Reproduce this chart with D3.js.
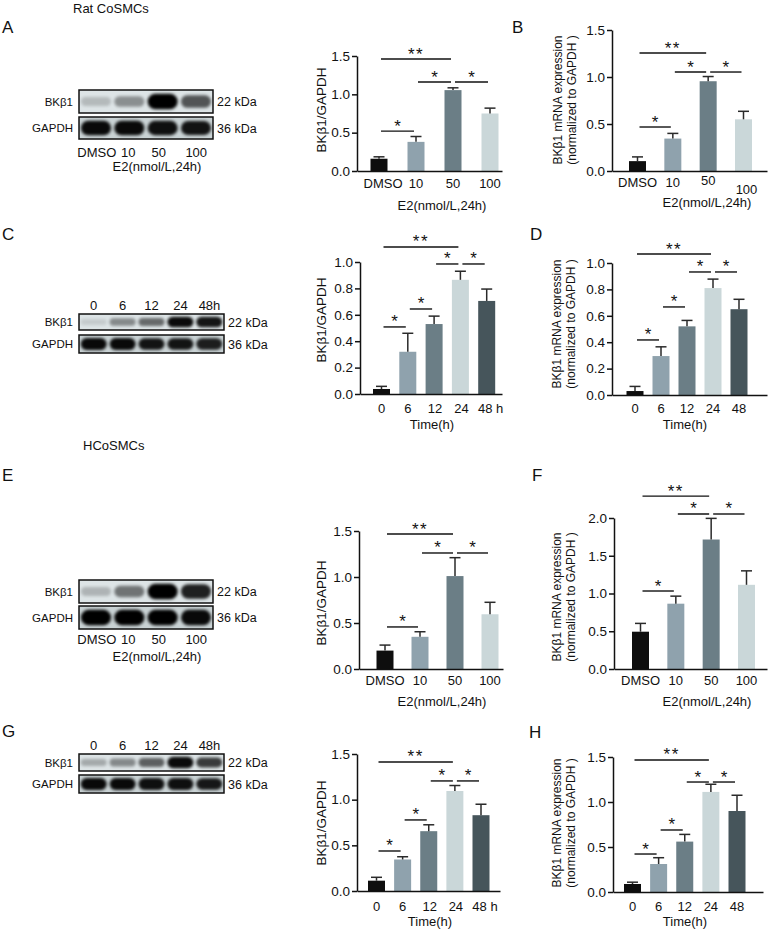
<!DOCTYPE html>
<html><head><meta charset="utf-8">
<script src="https://cdn.jsdelivr.net/npm/d3@7"></script>
<style>
body{margin:0;background:#fff}
text{font-family:"Liberation Sans",Arial,sans-serif;fill:#111}
</style>
</head><body>
<svg id="fig" width="774" height="931"></svg>
<script>
// ---------------- DATA ----------------
const doseCats = ["DMSO","10","50","100"];
const timeCats = ["0","6","12","24","48"];
const timeTicksWB = ["0","6","12","24","48h"];
const timeTicksC = ["0","6","12","24","48 h"];
const timeTicksD = ["0","6","12","24","48"];
const barColors = ["#0e0e0e","#8fa2ad","#6b7e86","#cad7d9","#46555b"];

// western blot band intensities (0..1)
const wbA_bk = [0.12, 0.32, 1.0, 0.6];
const wbA_gapdh = [0.95, 0.95, 0.92, 0.9];
const wbC_bk = [0.04, 0.35, 0.5, 0.95, 0.9];
const wbC_gapdh = [0.95, 0.95, 0.9, 0.9, 0.85];
const wbE_bk = [0.15, 0.45, 1.0, 0.85];
const wbE_gapdh = [1.0, 1.0, 1.0, 0.95];
const wbG_bk = [0.2, 0.35, 0.55, 0.95, 0.72];
const wbG_gapdh = [0.95, 0.95, 0.92, 0.92, 0.88];

// bar means and SEM (upper)
const aMean = [0.16, 0.38, 1.055, 0.75], aErr = [0.025, 0.07, 0.03, 0.07];
const bMean = [0.105, 0.345, 0.955, 0.55], bErr = [0.045, 0.055, 0.05, 0.085];
const cMean = [0.038, 0.32, 0.53, 0.865, 0.705], cErr = [0.02, 0.14, 0.06, 0.065, 0.09];
const dMean = [0.03, 0.295, 0.52, 0.81, 0.65], dErr = [0.035, 0.07, 0.045, 0.068, 0.075];
const eMean = [0.20, 0.35, 1.01, 0.595], eErr = [0.06, 0.055, 0.2, 0.13];
const fMean = [0.494, 0.865, 1.715, 1.115], fErr = [0.11, 0.1, 0.28, 0.185];
const gMean = [0.113, 0.345, 0.655, 1.095, 0.83], gErr = [0.037, 0.03, 0.07, 0.06, 0.12];
const hMean = [0.089, 0.311, 0.56, 1.112, 0.90], hErr = [0.02, 0.07, 0.08, 0.085, 0.175];

// significance brackets: [fromIndex, toIndex, yValue, label]
const aSig = [[0,2,1.46,"**"],[1,2,1.16,"*"],[2,3,1.16,"*"],[0,1,0.52,"*"]];
const bSig = [[0,2,1.255,"**"],[1,2,1.053,"*"],[2,3,1.053,"*"],[0,1,0.468,"*"]];
const cSig = [[0,3,1.114,"**"],[2,3,0.985,"*"],[3,4,0.985,"*"],[1,2,0.644,"*"],[0,1,0.508,"*"]];
const dSig = [[0,3,1.068,"**"],[2,3,0.932,"*"],[3,4,0.932,"*"],[1,2,0.667,"*"],[0,1,0.417,"*"]];
const eSig = [[0,2,1.467,"**"],[1,2,1.261,"*"],[2,3,1.261,"*"],[0,1,0.457,"*"]];
const fSig = [[0,2,2.29,"**"],[1,2,2.053,"*"],[2,3,2.053,"*"],[0,1,1.033,"*"]];
const gSig = [[0,3,1.413,"**"],[2,3,1.205,"*"],[3,4,1.205,"*"],[1,2,0.778,"*"],[0,1,0.438,"*"]];
const hSig = [[0,3,1.467,"**"],[2,3,1.222,"*"],[3,4,1.222,"*"],[1,2,0.689,"*"],[0,1,0.422,"*"]];

const ticks15 = [0, 0.5, 1.0, 1.5];
const ticks10 = [0, 0.2, 0.4, 0.6, 0.8, 1.0];
const ticks20 = [0, 0.5, 1.0, 1.5, 2.0];

const wbTitle = "E2(nmol/L,24h)";
const yTitleWB = "BKβ1/GAPDH";
const yTitleMRNA = ["BKβ1 mRNA expression", "(normalized to GAPDH )"];

// ---------------- DRAWING ----------------
const svg = d3.select("#fig");
const defs = svg.append("defs");
const flt = defs.append("filter").attr("id","blur")
  .attr("x","-40%").attr("y","-80%").attr("width","180%").attr("height","260%");
flt.append("feGaussianBlur").attr("stdDeviation",1.7);

function txt(g, x, y, s, size, anchor){
  return g.append("text").attr("x",x).attr("y",y).attr("font-size",size)
    .attr("text-anchor",anchor||"middle").text(s);
}

svg.append("text").attr("x",73).attr("y",13).attr("font-size",13).text("Rat CoSMCs");
svg.append("text").attr("x",83).attr("y",450).attr("font-size",13).text("HCoSMCs");

[["A",2,33],["B",512,33],["C",2,240],["D",530,240],["E",2,481],["F",532,481],["G",2,737],["H",529,738]]
  .forEach(([l,x,y])=>svg.append("text").attr("x",x).attr("y",y).attr("font-size",17).text(l));

function blot(cfg){
  const g = svg.append("g");
  const lanes = d3.scaleBand().domain(d3.range(cfg.bk.length)).range([cfg.x0, cfg.x1])
    .paddingInner(0.1).paddingOuter(0.06);
  const lanesC = d3.scaleBand().domain(d3.range(cfg.bk.length)).range([cfg.x0, cfg.x1]);
  const op = d3.scaleLinear().domain([0,1]).range([0.07,1]);
  [[cfg.bk, cfg.bkY, "BKβ1", "22 kDa", "#dde4e6"], [cfg.gd, cfg.gdY, "GAPDH", "36 kDa", "#c9d2d4"]]
  .forEach(([vals,[ya,yb],name,kda,bg],k)=>{
    const id = "clip"+cfg.id+k;
    defs.append("clipPath").attr("id",id).append("rect")
      .attr("x",cfg.x0).attr("y",ya).attr("width",cfg.x1-cfg.x0).attr("height",yb-ya);
    g.append("rect").attr("x",cfg.x0).attr("y",ya).attr("width",cfg.x1-cfg.x0).attr("height",yb-ya)
      .attr("fill",bg);
    const hs = d3.scaleLinear().domain([0,1]).range([0.35*(yb-ya),0.68*(yb-ya)]);
    const gb = g.append("g").attr("clip-path",`url(#${id})`);
    gb.selectAll("rect").data(vals).join("rect")
      .attr("x",(d,i)=>lanes(i)).attr("width",lanes.bandwidth())
      .attr("y",d=>(ya+yb)/2 - hs(d)/2).attr("height",d=>hs(d)).attr("rx",d=>hs(d)/2)
      .attr("fill","#050505").attr("opacity",d=>op(d)).attr("filter","url(#blur)");
    g.append("rect").attr("x",cfg.x0).attr("y",ya).attr("width",cfg.x1-cfg.x0).attr("height",yb-ya)
      .attr("fill","none").attr("stroke","#111").attr("stroke-width",1.5);
    txt(g, 73, (ya+yb)/2+4, name, 11.5, "end");
    txt(g, cfg.x1+4, (ya+yb)/2+4.5, kda, 12.5, "start");
  });
  cfg.laneLabels.forEach((s,i)=>txt(g, lanesC(i)+lanesC.bandwidth()/2 + (cfg.laneDx?cfg.laneDx[i]:0), cfg.laneY, s, 13));
  if(cfg.title) txt(g, cfg.titleX, cfg.titleY, cfg.title, 13);
}

blot({id:"A", x0:79, x1:213, bkY:[90,113], gdY:[117,139], bk:wbA_bk, gd:wbA_gapdh,
  laneLabels:doseCats, laneY:157, laneDx:[1,-1,-4,0], title:wbTitle, titleX:157, titleY:171});
blot({id:"C", x0:79, x1:224, bkY:[314,330], gdY:[335,353], bk:wbC_bk, gd:wbC_gapdh,
  laneLabels:timeTicksWB, laneY:310});
blot({id:"E", x0:79, x1:213, bkY:[580,603], gdY:[606,629], bk:wbE_bk, gd:wbE_gapdh,
  laneLabels:doseCats, laneY:644, laneDx:[1,-1,-4,0], title:wbTitle, titleX:157, titleY:661});
blot({id:"G", x0:79, x1:224, bkY:[754,771], gdY:[775,793], bk:wbG_bk, gd:wbG_gapdh,
  laneLabels:timeTicksWB, laneY:750});

function bars(cfg){
  const g = svg.append("g");
  const y = d3.scaleLinear().domain([0,cfg.max]).range([cfg.y0, cfg.yTop]);
  const x = d3.scalePoint().domain(cfg.cats).range([cfg.c0, cfg.c1]);
  const bw = 17;
  g.selectAll(".bar").data(cfg.mean).join("rect").attr("class","bar")
    .attr("x",(d,i)=>x(cfg.cats[i])-bw/2).attr("width",bw)
    .attr("y",d=>y(d)).attr("height",d=>cfg.y0-y(d))
    .attr("fill",(d,i)=>barColors[i]);
  // error bars
  const eg = g.append("g").attr("stroke","#2a2a2a").attr("stroke-width",1.5).attr("fill","none");
  cfg.mean.forEach((m,i)=>{
    const cx = x(cfg.cats[i]);
    eg.append("line").attr("x1",cx).attr("x2",cx).attr("y1",y(m)).attr("y2",y(m+cfg.err[i]));
    eg.append("line").attr("x1",cx-5.5).attr("x2",cx+5.5).attr("y1",y(m+cfg.err[i])).attr("y2",y(m+cfg.err[i]));
  });
  // y axis
  const yAx = d3.axisLeft(y).tickValues(cfg.ticks).tickFormat(d3.format(".1f"))
    .tickSize(5).tickSizeOuter(0).tickPadding(2);
  const ya = g.append("g").attr("transform",`translate(${cfg.ax},0)`).call(yAx);
  ya.select(".domain").attr("stroke","#111").attr("stroke-width",1.5);
  ya.selectAll(".tick line").attr("stroke","#111").attr("stroke-width",1.5);
  ya.selectAll(".tick text").attr("font-size",13.5).attr("fill","#111")
    .attr("font-family","Liberation Sans, Arial, sans-serif");
  // x axis line
  const xl = d3.scaleLinear().domain([0,1]).range([cfg.ax, cfg.xEnd]);
  const xa = g.append("g").attr("transform",`translate(0,${cfg.y0})`)
    .call(d3.axisBottom(xl).tickValues([]).tickSizeOuter(0));
  xa.select(".domain").attr("stroke","#111").attr("stroke-width",1.5);
  // x tick labels
  cfg.tickLabels.forEach((s,i)=>txt(g, x(cfg.cats[i]) + (cfg.tickDx?cfg.tickDx[i]:0),
    cfg.tickY + (cfg.tickDy?cfg.tickDy[i]:0), s, 13));
  txt(g, cfg.titleX, cfg.titleY, cfg.xTitle, 13);
  // y title
  if(Array.isArray(cfg.yTitle)){
    cfg.yTitle.forEach((s,k)=>{
      const bx = cfg.yTitleX[k] + 4.2;
      g.append("text").attr("transform",`translate(${bx},${cfg.yTitleY}) rotate(-90)`)
        .attr("text-anchor","middle").attr("font-size",12).text(s);
    });
  } else {
    g.append("text").attr("transform",`translate(${cfg.yTitleX+4.7},${cfg.yTitleY}) rotate(-90)`)
      .attr("text-anchor","middle").attr("font-size",13.5).text(cfg.yTitle);
  }
  // significance
  const sg = g.append("g");
  cfg.sig.forEach(([a,b,v,lab])=>{
    const xa1 = x(cfg.cats[a])+2, xb1 = x(cfg.cats[b])-2;
    sg.append("line").attr("x1",xa1).attr("x2",xb1).attr("y1",y(v)).attr("y2",y(v))
      .attr("stroke","#111").attr("stroke-width",1.4);
    sg.append("text").attr("x",(xa1+xb1)/2).attr("y",y(v)+0.5).attr("text-anchor","middle")
      .attr("font-size",17).attr("letter-spacing",lab.length>1?1.5:0).text(lab);
  });
}

bars({cats:doseCats, mean:aMean, err:aErr, sig:aSig, max:1.5, ticks:ticks15,
  ax:357, xEnd:502, y0:171, yTop:56, c0:379, c1:490,
  tickLabels:doseCats, tickY:188, tickDx:[4,0,0,0], xTitle:wbTitle, titleX:442, titleY:210,
  yTitle:yTitleWB, yTitleX:321, yTitleY:110});
bars({cats:doseCats, mean:bMean, err:bErr, sig:bSig, max:1.5, ticks:ticks15,
  ax:612, xEnd:767, y0:171, yTop:30, c0:637.5, c1:743.5,
  tickLabels:doseCats, tickY:187, tickDx:[0,0,0,3], tickDy:[0,0,-2,7], xTitle:wbTitle, titleX:707, titleY:207,
  yTitle:yTitleMRNA, yTitleX:[558,572], yTitleY:100});
bars({cats:timeCats, mean:cMean, err:cErr, sig:cSig, max:1.0, ticks:ticks10,
  ax:360, xEnd:502, y0:394, yTop:262, c0:381.5, c1:486.7,
  tickLabels:timeTicksC, tickY:413, tickDx:[0,0,1,1,4], xTitle:"Time(h)", titleX:432, titleY:429,
  yTitle:yTitleWB, yTitleX:321, yTitleY:320});
bars({cats:timeCats, mean:dMean, err:dErr, sig:dSig, max:1.0, ticks:ticks10,
  ax:612, xEnd:767, y0:395, yTop:263, c0:635, c1:739,
  tickLabels:timeTicksD, tickY:413, xTitle:"Time(h)", titleX:685, titleY:429,
  yTitle:yTitleMRNA, yTitleX:[557,571], yTitleY:324});
bars({cats:doseCats, mean:eMean, err:eErr, sig:eSig, max:1.5, ticks:ticks15,
  ax:359, xEnd:503, y0:669, yTop:531, c0:385, c1:490,
  tickLabels:doseCats, tickY:685, xTitle:wbTitle, titleX:442, titleY:706,
  yTitle:yTitleWB, yTitleX:321, yTitleY:603});
bars({cats:doseCats, mean:fMean, err:fErr, sig:fSig, max:2.0, ticks:ticks20,
  ax:614, xEnd:767, y0:669, yTop:518, c0:640.5, c1:746.5,
  tickLabels:doseCats, tickY:685, xTitle:wbTitle, titleX:707, titleY:706,
  yTitle:yTitleMRNA, yTitleX:[557,571], yTitleY:597});
bars({cats:timeCats, mean:gMean, err:gErr, sig:gSig, max:1.5, ticks:ticks15,
  ax:357, xEnd:500, y0:891, yTop:754, c0:376.5, c1:481,
  tickLabels:timeTicksC, tickY:911, tickDx:[0,0,1,1,4], xTitle:"Time(h)", titleX:430, titleY:926,
  yTitle:yTitleWB, yTitleX:321, yTitleY:823});
bars({cats:timeCats, mean:hMean, err:hErr, sig:hSig, max:1.5, ticks:ticks15,
  ax:613, xEnd:763, y0:892, yTop:757, c0:632.5, c1:737,
  tickLabels:timeTicksD, tickY:911, xTitle:"Time(h)", titleX:685, titleY:926,
  yTitle:yTitleMRNA, yTitleX:[557,571], yTitleY:823});
</script>
</body></html>
